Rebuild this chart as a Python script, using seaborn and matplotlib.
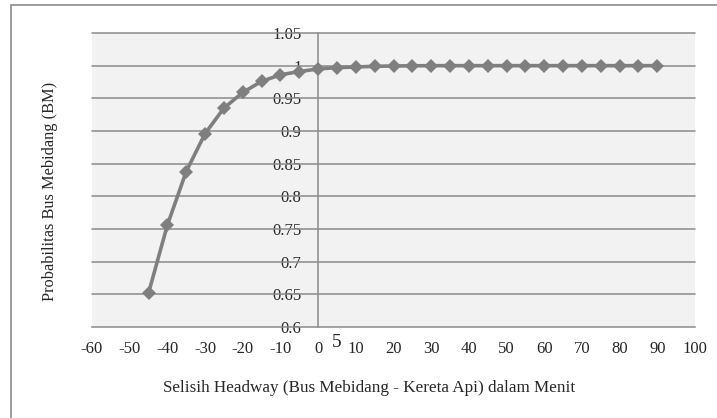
import numpy as np
import pandas as pd
import matplotlib
matplotlib.use("Agg")
import matplotlib.pyplot as plt
import matplotlib.patches as patches
from matplotlib.ticker import FuncFormatter
import seaborn as sns

# data
selisih = [-45, -40, -35, -30, -25, -20, -15, -10, -5, 0, 5, 10, 15, 20, 25, 30,
           35, 40, 45, 50, 55, 60, 65, 70, 75, 80, 85, 90]
prob_bm = [0.652, 0.756, 0.838, 0.896, 0.935, 0.959, 0.976, 0.986, 0.991, 0.995,
           0.997, 0.998, 0.999, 0.9995, 0.9998, 1.0, 1.0, 1.0, 1.0, 1.0, 1.0, 1.0,
           1.0, 1.0, 1.0, 1.0, 1.0, 1.0]
x_ticks = list(range(-60, 101, 10))
y_ticks = [0.6, 0.65, 0.7, 0.75, 0.8, 0.85, 0.9, 0.95, 1.0, 1.05]

df = pd.DataFrame({"selisih": selisih, "prob": prob_bm})

sns.set_style("white")
plt.rcParams["font.family"] = ["Liberation Serif", "DejaVu Serif"]
plt.rcParams["axes.unicode_minus"] = False

fig = plt.figure(figsize=(7.17, 4.18), dpi=100)
W, H = 717, 418
ax = fig.add_axes([92 / W, 1 - 327 / H, (695 - 92) / W, (327 - 33) / H])

# outer chart border (only left/top visible in crop)
fig.patches.append(patches.Rectangle((11 / W, -0.1), 1.2, 1 - 5 / H + 0.1,
                                     transform=fig.transFigure, fill=False,
                                     edgecolor="#8c8c8c", linewidth=1.2))

ax.set_facecolor("#f2f2f2")
grid_c = "#8a8a8a"
for yv in y_ticks[1:]:
    ax.axhline(yv, color=grid_c, linewidth=1.1, zorder=1, clip_on=False)

sns.lineplot(data=df, x="selisih", y="prob", ax=ax, color="#7f7f7f",
             linewidth=2.6, marker="D", markersize=7, markeredgewidth=0,
             zorder=3)

ax.set_xlim(-60, 100)
ax.set_ylim(0.6, 1.05)
ax.set_xticks(x_ticks)
ax.set_yticks(y_ticks)
ax.yaxis.set_major_formatter(FuncFormatter(lambda v, p: "%g" % round(v, 2)))

for s in ["top", "right"]:
    ax.spines[s].set_visible(False)
ax.spines["left"].set_position(("data", 0))
ax.spines["left"].set_color(grid_c)
ax.spines["left"].set_linewidth(1.1)
ax.spines["left"].set_zorder(2)
ax.spines["bottom"].set_color(grid_c)
ax.spines["bottom"].set_linewidth(1.1)

ax.tick_params(axis="x", direction="out", length=4, width=1.1, color=grid_c,
               labelsize=12, pad=6)
ax.tick_params(axis="y", length=0, labelsize=12, pad=12)

ax.text(5, -0.052, "5", transform=ax.get_xaxis_transform(), ha="center",
        va="center", fontsize=14)

ax.set_xlabel("")
ax.set_ylabel("")
fig.text(369 / W, 1 - 388 / H, "Selisih Headway (Bus Mebidang - Kereta Api) dalam Menit",
         ha="center", va="center", fontsize=12.3)
fig.text(50 / W, 1 - 191 / H, "Probabilitas Bus Mebidang (BM)", rotation=90,
         ha="center", va="center", fontsize=11.8)

fig.savefig("out.png", dpi=100)
